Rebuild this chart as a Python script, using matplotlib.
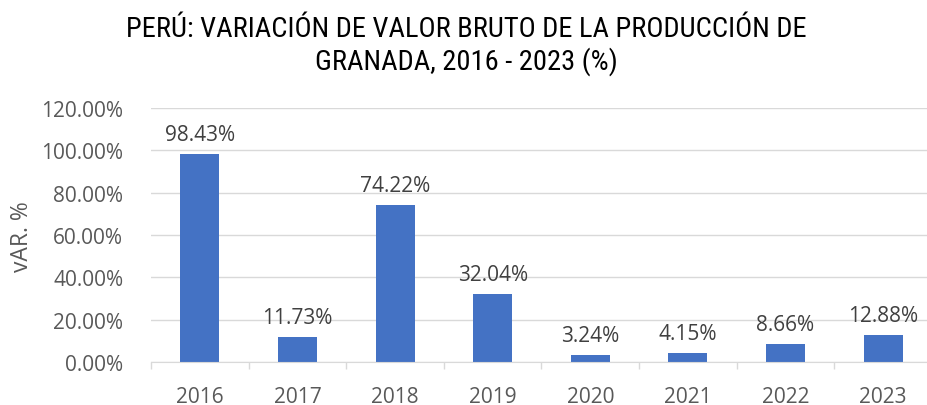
import matplotlib
matplotlib.use("Agg")
import matplotlib.pyplot as plt
import numpy as np

years = ["2016", "2017", "2018", "2019", "2020", "2021", "2022", "2023"]
values = [98.43, 11.73, 74.22, 32.04, 3.24, 4.15, 8.66, 12.88]
yticks = [0, 20, 40, 60, 80, 100, 120]

title_font = ["Liberation Sans Narrow", "Roboto Condensed", "PT Sans Narrow",
              "Archivo Narrow", "Liberation Sans", "DejaVu Sans"]
body_font = ["Selawik", "Open Sans", "DejaVu Sans"]

fig = plt.figure(figsize=(9.28, 4.06), dpi=100)
ax = fig.add_axes([151/928, 43/406, (932-151)/928, (363-109)/406])

x = np.arange(len(years))
ax.bar(x, values, width=0.4, color="#4472C4", zorder=3)
for xi, v in zip(x, values):
    ax.annotate(f"{v:.2f}%", (xi, v), xytext=(0, 10), textcoords="offset points",
                ha="center", va="baseline", fontsize=15, color="#404040", family=body_font)

ax.set_xlim(-0.5, len(years) - 0.5)
ax.set_ylim(0, 120)
ax.set_yticks(yticks)
ax.set_yticklabels([f"{t:.2f}%" for t in yticks], family=body_font, fontsize=15, color="#595959")
ax.set_xticks(x)
ax.set_xticklabels(years, family=body_font, fontsize=15, color="#595959")
ax.set_xticks(np.arange(len(years) + 1) - 0.5, minor=True)
ax.tick_params(axis="x", which="major", length=0, pad=17)
ax.tick_params(axis="x", which="minor", length=5, color="#d9d9d9", width=1)
ax.tick_params(axis="y", length=0, pad=20)
ax.grid(axis="y", color="#d9d9d9", linewidth=1, zorder=0)
for s in ["top", "right", "left"]:
    ax.spines[s].set_visible(False)
ax.spines["bottom"].set_color("#d9d9d9")
ax.spines["bottom"].set_zorder(4)

fig.text(22/928, 1 - 237/406, "vAR. %", rotation=90, ha="center", va="center",
         family=body_font, fontsize=16.5, color="#595959")

fig.text(466/928, 1 - 37/406, "PERÚ: VARIACIÓN DE VALOR BRUTO DE LA PRODUCCIÓN DE",
         ha="center", va="baseline", fontsize=20.5, family=title_font, color="#000000")
fig.text(466/928, 1 - 70/406, "GRANADA, 2016 - 2023 (%)",
         ha="center", va="baseline", fontsize=20.5, family=title_font, color="#000000")

fig.savefig("out.png", dpi=100)
